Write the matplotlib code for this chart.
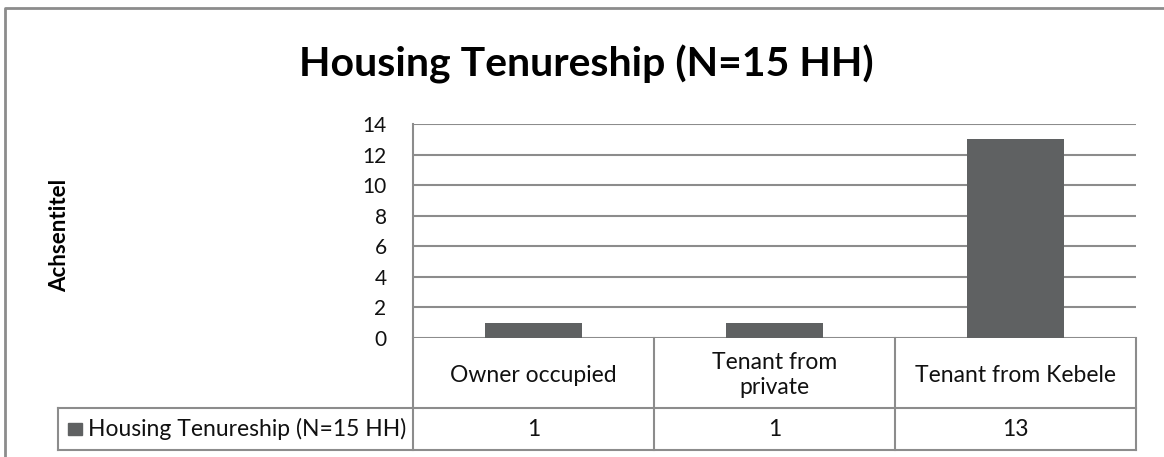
import matplotlib.pyplot as plt
import numpy as np

categories = ["Owner occupied", "Tenant from\nprivate", "Tenant from Kebele"]
values = [1, 1, 13]
series_name = "Housing Tenureship (N=15 HH)"
title = "Housing Tenureship (N=15 HH)"
yticks = [0, 2, 4, 6, 8, 10, 12, 14]

W, H = 1164, 457
bar_color = "#5f6162"
line_color = "#8c8c8c"
plt.rcParams["font.family"] = ["Lato", "DejaVu Sans"]

fig = plt.figure(figsize=(W / 100, H / 100), dpi=100)

# pixel helpers (y measured from top)
def fx(px):
    return px / W

def fy(py):
    return 1 - py / H

left, right, top, bottom = 413, 1136, 124, 338
ax = fig.add_axes([fx(left), fy(bottom), fx(right - left), (bottom - top) / H])
x = np.arange(len(categories))
ax.bar(x, values, width=0.4, color=bar_color, zorder=3)
ax.set_xlim(-0.5, len(categories) - 0.5)
ax.set_ylim(0, 14)
ax.set_yticks(yticks)
ax.set_yticklabels([str(t) for t in yticks], fontsize=15, color="#111111")
ax.tick_params(axis="y", length=0, pad=19)
ax.set_xticks([])
ax.grid(axis="y", color=line_color, linewidth=1.5, zorder=0)
for s in ["top", "right", "bottom"]:
    ax.spines[s].set_visible(False)
ax.spines["left"].set_color(line_color)
ax.spines["left"].set_linewidth(1.5)
ax.set_ylabel("Achsentitel", fontsize=16, fontweight="bold")
ax.yaxis.set_label_coords((60 - left) / (right - left), (bottom - 235) / (bottom - top))
ax.yaxis.label.set_va("center")

# data table drawn below the axes, in figure pixel space
tab = fig.add_axes([0, 0, 1, 1])
tab.set_xlim(0, W)
tab.set_ylim(H, 0)
tab.axis("off")
row1, row2, row3 = bottom, 408, 450
col_w = (right - left) / len(categories)
cols = [left + i * col_w for i in range(len(categories) + 1)]
lw = 1.5
for c in cols:
    tab.plot([c, c], [row1, row3], color=line_color, lw=lw)
tab.plot([58, right], [row2, row2], color=line_color, lw=lw)
tab.plot([58, right], [row3, row3], color=line_color, lw=lw)
tab.plot([58, 58], [row2, row3], color=line_color, lw=lw)
for i, (cat, v) in enumerate(zip(categories, values)):
    cx = (cols[i] + cols[i + 1]) / 2
    tab.text(cx, (row1 + row2) / 2 + 2, cat, ha="center", va="center",
             fontsize=16.5, linespacing=1.2, color="#111111")
    tab.text(cx, (row2 + row3) / 2, str(v), ha="center", va="center",
             fontsize=16.5, color="#111111")
tab.add_patch(plt.Rectangle((68, 423), 14, 12, color=bar_color))
tab.text(88, (row2 + row3) / 2, series_name, ha="left", va="center",
         fontsize=16.5, color="#111111")

# outer chart border
tab.plot([5, 5, W + 5], [H + 5, 8, 8], color="#8c8c8c", lw=2)

fig.text(fx(586), fy(64), title, ha="center", va="center",
         fontsize=29.5, fontweight="bold")

fig.savefig("out.png", dpi=100)
